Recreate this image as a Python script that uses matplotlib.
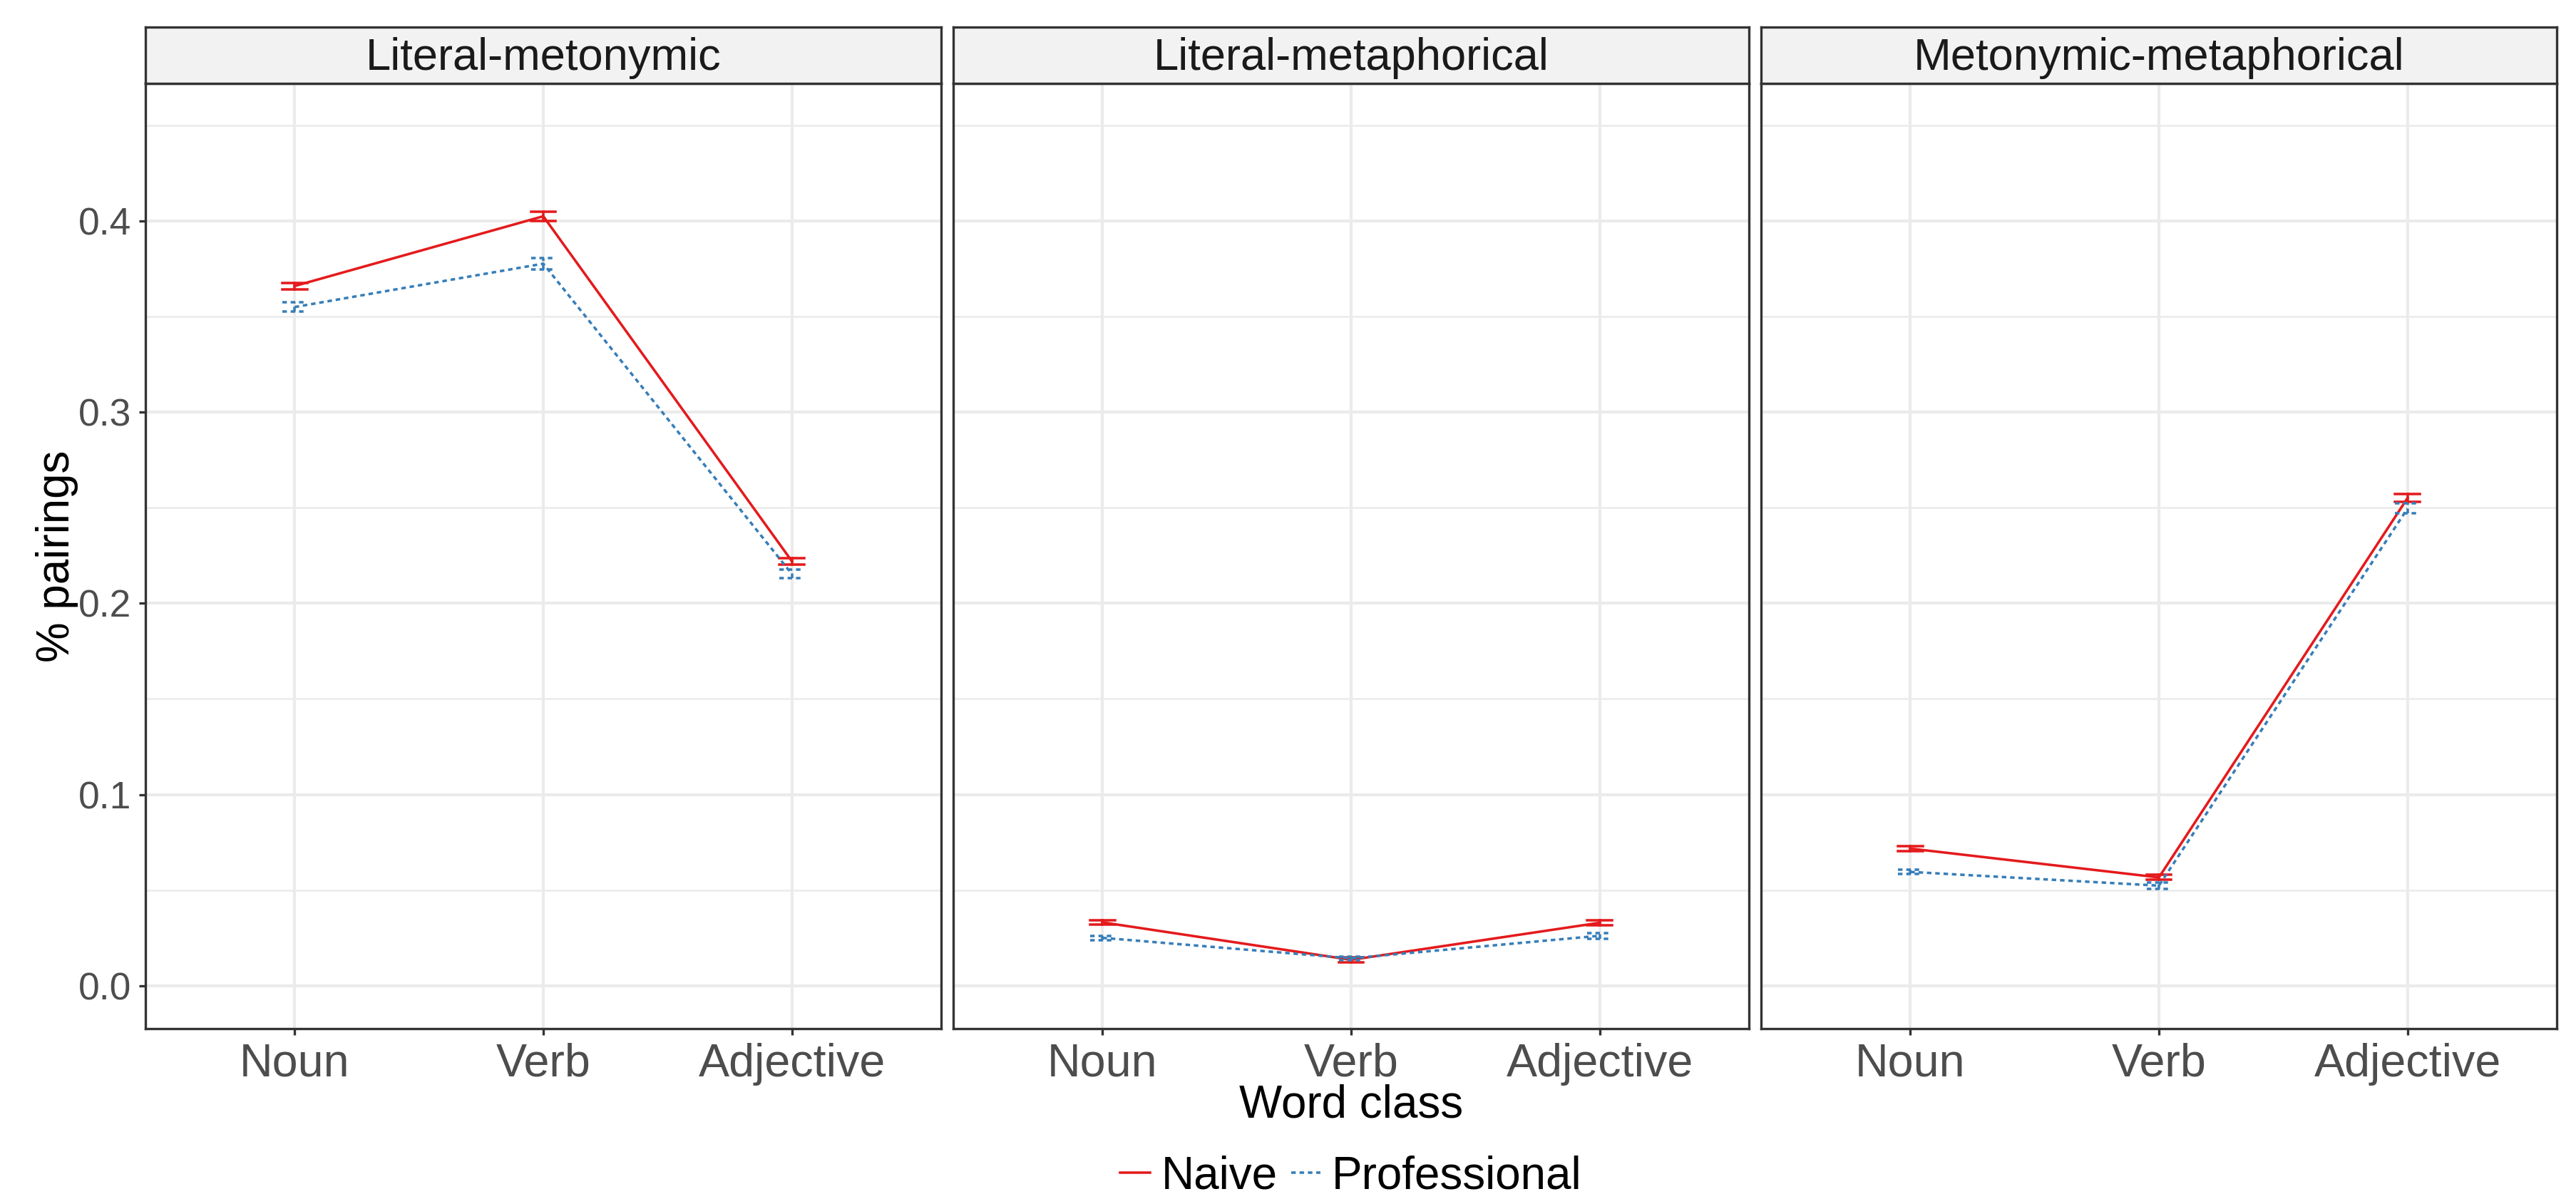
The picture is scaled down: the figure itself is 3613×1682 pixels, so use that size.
import numpy as np
import matplotlib.pyplot as plt
from matplotlib.lines import Line2D

plt.rcParams['font.family'] = ['Liberation Sans', 'DejaVu Sans']

# Данные
categories = ['Noun', 'Verb', 'Adjective']
panels = ['Literal-metonymic', 'Literal-metaphorical', 'Metonymic-metaphorical']

naive_lit_meto = [0.366, 0.4025, 0.222]
naive_lit_meta = [0.0331, 0.0135, 0.0329]
naive_meto_meta = [0.0717, 0.0566, 0.2551]
prof_lit_meto = [0.355, 0.3777, 0.2153]
prof_lit_meta = [0.025, 0.0143, 0.0261]
prof_meto_meta = [0.0595, 0.0523, 0.2496]

naive_se_lit_meto = [0.0017, 0.0025, 0.0018]
naive_se_lit_meta = [0.0010, 0.0012, 0.0012]
naive_se_meto_meta = [0.0012, 0.0013, 0.0020]
prof_se_lit_meto = [0.0024, 0.0030, 0.0022]
prof_se_lit_meta = [0.0011, 0.0009, 0.0015]
prof_se_meto_meta = [0.0010, 0.0016, 0.0026]

naive = [naive_lit_meto, naive_lit_meta, naive_meto_meta]
prof = [prof_lit_meto, prof_lit_meta, prof_meto_meta]
naive_se = [naive_se_lit_meto, naive_se_lit_meta, naive_se_meto_meta]
prof_se = [prof_se_lit_meto, prof_se_lit_meta, prof_se_meto_meta]

y_ticks = [0.0, 0.1, 0.2, 0.3, 0.4]

red = '#E41A1C'
blue = '#377EB8'
dotted = (0, (1.8, 1.5))
lw = 0.85

W, H = 3613, 1682
fig = plt.figure(figsize=(W / 300, H / 300), dpi=300)

left0 = 204 / W
pw = 1116 / W
gap = 17 / W
bottom = 1 - 1443 / H
top = 1 - 117 / H
strip_top = 1 - 38 / H
xmid = (left0 + 3 * pw + 2 * gap + left0) / 2

def draw_series(ax, x, y, se, color, ls):
    ax.plot(x, y, color=color, lw=lw, linestyle=ls, zorder=3)
    cap = 0.05
    for xi, yi, ei in zip(x, y, se):
        ax.plot([xi, xi], [yi - ei, yi + ei], color=color, lw=lw, linestyle=ls, zorder=3)
        ax.plot([xi - cap, xi + cap], [yi - ei, yi - ei], color=color, lw=lw, linestyle=ls, zorder=3)
        ax.plot([xi - cap, xi + cap], [yi + ei, yi + ei], color=color, lw=lw, linestyle=ls, zorder=3)

x = np.arange(1, len(categories) + 1)
for i, name in enumerate(panels):
    l = left0 + i * (pw + gap)
    ax = fig.add_axes([l, bottom, pw, top - bottom])
    draw_series(ax, x, naive[i], naive_se[i], red, '-')
    draw_series(ax, x, prof[i], prof_se[i], blue, dotted)

    ax.set_xlim(0.4, 3.6)
    ax.set_ylim(-0.0225, 0.472)
    ax.set_xticks(x)
    ax.set_xticklabels(categories, fontsize=15.5, color='#4D4D4D')
    ax.set_yticks(y_ticks)
    ax.set_yticks(np.arange(0.05, 0.47, 0.1), minor=True)
    ax.tick_params(which='major', length=2.2, width=0.8, color='#333333', pad=2.5)
    ax.tick_params(axis='y', which='minor', length=0)
    if i == 0:
        ax.set_yticklabels(['%.1f' % v for v in y_ticks], fontsize=12.8, color='#4D4D4D')
    else:
        ax.tick_params(axis='y', which='major', length=0, labelleft=False)
    ax.grid(True, which='major', color='#EBEBEB', lw=1.0, zorder=0)
    ax.grid(True, which='minor', axis='y', color='#EBEBEB', lw=0.6, zorder=0)
    ax.set_axisbelow(True)
    for s in ax.spines.values():
        s.set_color('#333333')
        s.set_linewidth(0.8)

    # полоска с названием панели
    sax = fig.add_axes([l, top, pw, strip_top - top])
    sax.set_xticks([])
    sax.set_yticks([])
    sax.set_facecolor('#F2F2F2')
    for s in sax.spines.values():
        s.set_color('#333333')
        s.set_linewidth(0.8)
    sax.text(0.5, 0.45, name, ha='center', va='center', fontsize=15.2, color='#1A1A1A',
             transform=sax.transAxes)

fig.text(80 / W, (top + bottom) / 2, '% pairings', rotation=90, ha='center', va='center',
         fontsize=15.3, color='black')
fig.text(xmid, 1 - 1550 / H, 'Word class', ha='center', va='center', fontsize=15.3,
         color='black')

handles = [Line2D([], [], color=red, lw=lw, linestyle='-'),
           Line2D([], [], color=blue, lw=lw, linestyle=dotted)]
fig.legend(handles, ['Naive', 'Professional'], loc='center',
           bbox_to_anchor=(xmid, 1 - 1650 / H),
           ncol=2, frameon=False, fontsize=15.3, handlelength=0.65, handletextpad=0.25,
           columnspacing=0.3, borderaxespad=0)

fig.savefig('out.png', dpi=300)
